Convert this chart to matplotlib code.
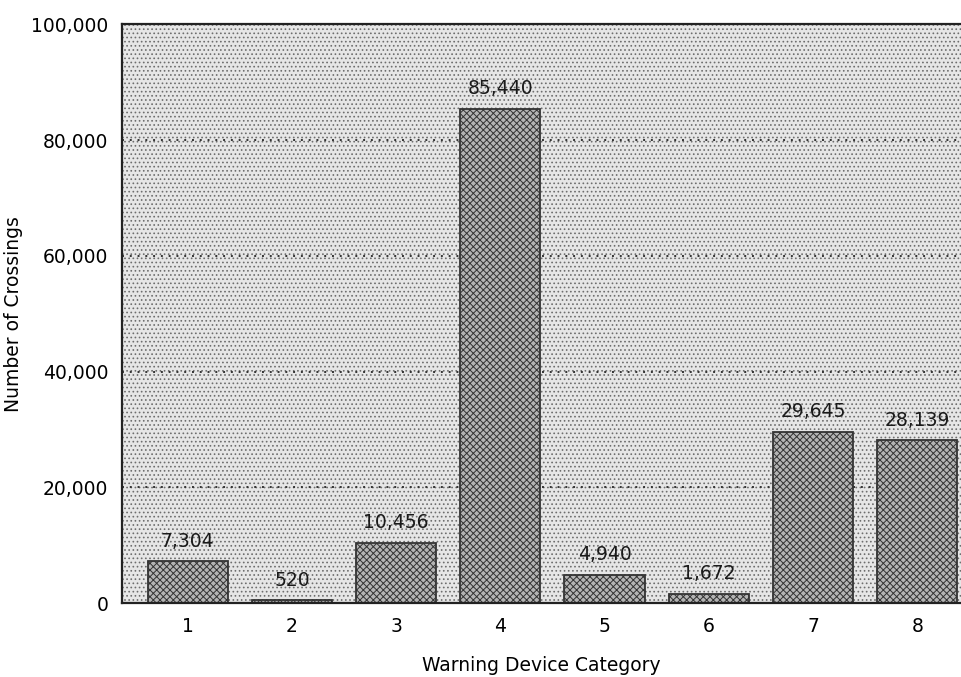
import numpy as np
import matplotlib.pyplot as plt
from matplotlib.patches import Rectangle

# Crossings by warning device category
categories = ['1', '2', '3', '4', '5', '6', '7', '8']
crossings = [7304, 520, 10456, 85440, 4940, 1672, 29645, 28139]
y_ticks = [0, 20000, 40000, 60000, 80000, 100000]

plt.rcParams['font.family'] = ['DejaVu Sans']
plt.rcParams['hatch.linewidth'] = 0.7

fig = plt.figure(figsize=(9.61, 6.77), dpi=100)
ax = fig.add_axes([0.127, 0.109, 0.873, 0.855])

x = np.arange(1, len(categories) + 1)

# stippled plot background
ax.set_facecolor('white')
bg = Rectangle((0, 0), 1, 1, transform=ax.transAxes, facecolor='#e6e6e6',
               edgecolor='#6e6e6e', hatch='....', linewidth=0, zorder=0)
ax.add_patch(bg)

# dotted reference lines
for yv in y_ticks[1:-1]:
    ax.axhline(yv, color='#333333', linestyle=(0, (1, 3)), linewidth=1.4, zorder=1)

bars = ax.bar(x, crossings, width=0.77, facecolor='#b4b4b4', edgecolor='#333333',
              linewidth=1.3, hatch='xxxxx', zorder=2)

for xi, v in zip(x, crossings):
    ax.text(xi, v + 1800, f'{v:,}', ha='center', va='bottom', fontsize=13.5,
            color='#1a1a1a', zorder=3)

ax.set_xlim(0.37, 8.42)
ax.set_ylim(0, 100000)
ax.set_xticks(x)
ax.set_xticklabels(categories, fontsize=13.5)
ax.set_yticks(y_ticks)
ax.set_yticklabels([f'{t:,}' for t in y_ticks], fontsize=13.5)
ax.tick_params(length=0, pad=10)

for side in ['left', 'bottom', 'top']:
    ax.spines[side].set_linewidth(1.6)
    ax.spines[side].set_color('#222222')
ax.spines['right'].set_visible(False)

ax.set_xlabel('Warning Device Category', fontsize=13.5, labelpad=14)
ax.set_ylabel('Number of Crossings', fontsize=13.5, labelpad=6)

fig.savefig('out.png', dpi=100)
